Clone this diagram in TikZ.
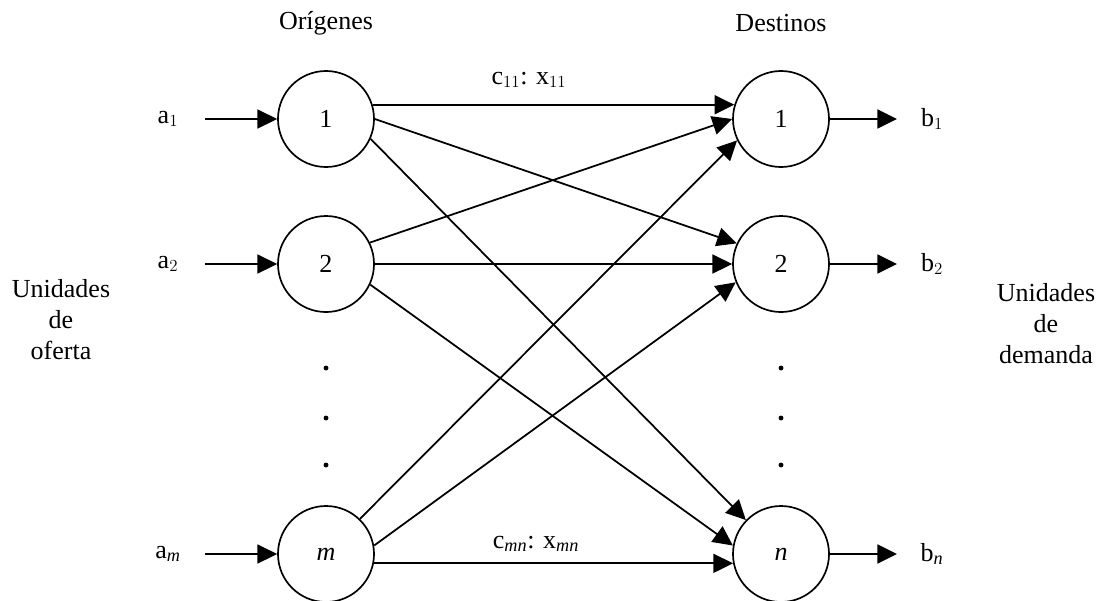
\documentclass[tikz,border=0pt]{standalone}
\usepackage{fontspec}
\setmainfont{Liberation Serif}
\usetikzlibrary{arrows.meta}

\begin{document}
\begin{tikzpicture}[x=0.025cm,y=-0.025cm,
  font=\fontsize{18.5}{22}\selectfont,
  nodo/.style={draw, circle, line width=1.2pt, minimum size=2.4cm, inner sep=0pt},
  flujo/.style={-{Triangle[length=14pt,width=13.5pt]}, line width=1.25pt},
  punto/.style={circle, fill, inner sep=0pt, minimum size=3.5pt}]
\useasboundingbox (0,0) rectangle (1099,600);

\node (tor) at (326,23) {Orígenes};
\node (tde) at (781,23) {Destinos};

\node[nodo] (o1) at (326,119) {1};
\node[nodo] (o2) at (326,264) {2};
\node[nodo] (om) at (326,554) {\itshape m};
\node[nodo] (d1) at (781,119) {1};
\node[nodo] (d2) at (781,264) {2};
\node[nodo] (dn) at (781,554) {\itshape n};

\node[punto] (po1) at (326,368) {};
\node[punto] (po2) at (326,418) {};
\node[punto] (po3) at (326,465) {};
\node[punto] (pd1) at (781,368) {};
\node[punto] (pd2) at (781,418) {};
\node[punto] (pd3) at (781,465) {};

\node (a1) at (168,119) {a$_1$};
\node (a2) at (168,264) {a$_2$};
\node (am) at (168,554) {a$_{\mathit{m}}$};
\node (b1) at (932,119) {b$_1$};
\node (b2) at (932,264) {b$_2$};
\node (bn) at (932,554) {b$_{\mathit{n}}$};

\node[align=center] (oferta) at (61,320) {Unidades\\de\\oferta};
\node[align=center] (demanda) at (1046,324) {Unidades\\de\\demanda};

\node (c11) at (529,80) {c$_{11}$: x$_{11}$};
\node (cmn) at (536,544) {c$_{\mathit{mn}}$: x$_{\mathit{mn}}$};

\coordinate (ea1) at (205,119);
\coordinate (ea2) at (205,264);
\coordinate (eam) at (205,554);
\coordinate (sb1) at (897,119);
\coordinate (sb2) at (897,264);
\coordinate (sbn) at (897,554);

\draw[flujo] (ea1) -- (o1);
\draw[flujo] (ea2) -- (o2);
\draw[flujo] (eam) -- (om);
\draw[flujo] (d1) -- (sb1);
\draw[flujo] (d2) -- (sb2);
\draw[flujo] (dn) -- (sbn);

\draw[flujo] (o1.17) -- (d1.163);
\draw[flujo] (o1.0) -- (d2.155);
\draw[flujo] (o1.-24) -- (dn.136);
\draw[flujo] (o2.26) -- (d1.180);
\draw[flujo] (o2.0) -- (d2.180);
\draw[flujo] (o2.-25) -- (dn.170);
\draw[flujo] (om.46) -- (d1.206);
\draw[flujo] (om.10) -- (d2.202);
\draw[flujo] (om.-11) -- (dn.191);
\end{tikzpicture}
\end{document}
